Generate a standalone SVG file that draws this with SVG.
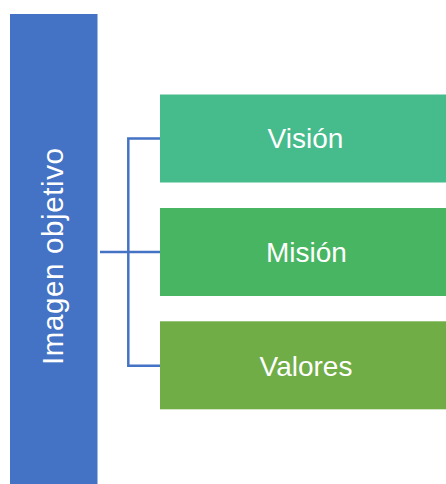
<svg xmlns="http://www.w3.org/2000/svg" width="446" height="484" viewBox="0 0 446 484">
<style>
.lbl{font-family:"Liberation Sans",Arial,sans-serif;font-size:28px;fill:#ffffff;text-anchor:middle}
.conn{fill:none;stroke:#4472C4;stroke-width:2.5}
</style>
<rect width="446" height="484" fill="#ffffff"/>
<g id="imagen">
<rect x="10" y="14" width="87.5" height="472" fill="#4472C4"/>
<text class="lbl" style="font-size:29.5px" transform="translate(63,256.5) rotate(-90)" x="0" y="0" textLength="217" lengthAdjust="spacing">Imagen objetivo</text>
</g>
<g id="connectors">
<path class="conn" d="M100,252 H160 M160,138.5 H128.3 V365.7 H160"/>
</g>
<g id="vision">
<rect x="160" y="94.5" width="290" height="88" fill="#46BB8C"/>
<text class="lbl" x="305.5" y="148.3">Visión</text>
</g>
<g id="mision">
<rect x="160" y="208" width="290" height="88" fill="#48B562"/>
<text class="lbl" x="306.5" y="262">Misión</text>
</g>
<g id="valores">
<rect x="160" y="321.3" width="290" height="88" fill="#70AD47"/>
<text class="lbl" x="306" y="376">Valores</text>
</g>
</svg>
